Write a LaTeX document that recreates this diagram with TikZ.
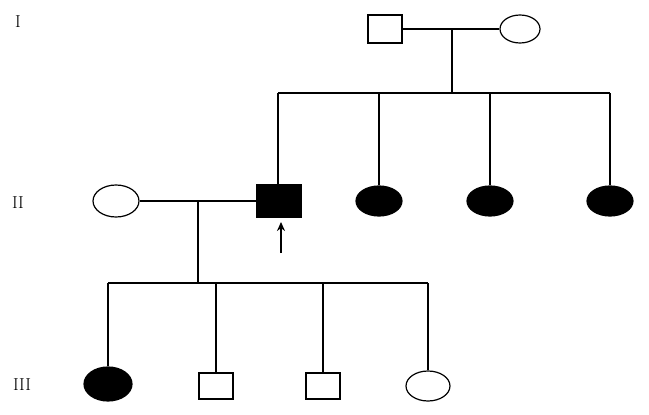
\documentclass[tikz,border=0pt]{standalone}
\usetikzlibrary{shapes.geometric,arrows.meta}
\begin{document}
\begin{tikzpicture}[x=1pt,y=-1pt,
  ln/.style={line width=1.3pt},
  male/.style={draw,line width=1.2pt,rectangle,minimum width=34pt,minimum height=28pt,inner sep=0pt},
  fem/.style={draw,line width=1.2pt,ellipse,minimum width=46pt,minimum height=32pt,inner sep=0pt},
  aff/.style={fill=black},
  gen/.style={font=\LARGE}]
\useasboundingbox (0,0) rectangle (649,415);
\node[gen] (g1) at (18,22) {I};
\node[gen] (g2) at (18,203) {II};
\node[gen] (g3) at (22,385) {III};
% Gen I
\node[male] (i1) at (385,29) {};
\node[fem,minimum width=40pt,minimum height=28pt] (i2) at (520,29) {};
\draw[ln] (i1) -- (i2);
\coordinate (m1) at (452,29);
\coordinate (s1) at (452,93);
\draw[ln] (m1) -- (s1);
\coordinate (l1) at (278,93); \coordinate (r1) at (610,93);
\draw[ln] (l1) -- (r1);
% Gen II
\node[fem] (ii1) at (116,201) {};
\node[male,aff,minimum width=44pt,minimum height=32pt] (ii2) at (279,201) {};
\node[fem,aff,minimum height=30pt] (ii3) at (379,201) {};
\node[fem,aff,minimum height=30pt] (ii4) at (490,201) {};
\node[fem,aff,minimum height=30pt] (ii5) at (610,201) {};
\draw[ln] (l1) -- (ii2.north -| l1);
\draw[ln] (379,93) -- (ii3);
\draw[ln] (490,93) -- (ii4);
\draw[ln] (r1) -- (ii5);
\draw[ln] (ii1) -- (ii2);
\coordinate (m2) at (198,201); \coordinate (s2) at (198,283);
\draw[ln] (m2) -- (s2);
\coordinate (ab) at (281,253);
\draw[line width=2.4pt,-{Stealth[length=9pt,width=8pt]}] (ab) -- (281,222);
\coordinate (l2) at (108,283); \coordinate (r2) at (428,283);
\draw[ln] (l2) -- (r2);
% Gen III
\node[fem,aff,minimum width=48pt,minimum height=34pt] (iii1) at (108,384) {};
\node[male,minimum height=26pt] (iii2) at (216,386) {};
\node[male,minimum height=26pt] (iii3) at (323,386) {};
\node[fem,minimum width=44pt,minimum height=30pt] (iii4) at (428,386) {};
\draw[ln] (l2) -- (iii1);
\draw[ln] (216,283) -- (iii2);
\draw[ln] (323,283) -- (iii3);
\draw[ln] (r2) -- (iii4);
\end{tikzpicture}
\end{document}
